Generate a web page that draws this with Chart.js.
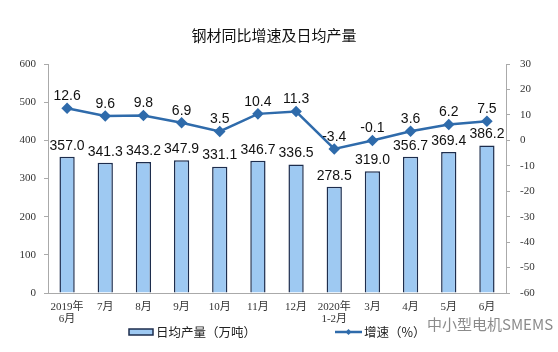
<!DOCTYPE html>
<html>
<head>
<meta charset="utf-8">
<script src="https://cdn.jsdelivr.net/npm/chart.js@4/dist/chart.umd.min.js"></script>
<style>
  html, body { margin: 0; padding: 0; background: #fff; }
  #wrap { width: 558px; height: 352px; position: relative; }
</style>
</head>
<body>
<div id="wrap"><canvas id="steelChart"></canvas></div>
<script>
// 月份
var months = [["2019年","6月"], "7月", "8月", "9月", "10月", "11月", "12月", ["2020年","1-2月"], "3月", "4月", "5月", "6月"];
// 日均产量（万吨）
var dailyOutput = [357.0, 341.3, 343.2, 347.9, 331.1, 346.7, 336.5, 278.5, 319.0, 356.7, 369.4, 386.2];
// 增速（%）
var growthRate = [12.6, 9.6, 9.8, 6.9, 3.5, 10.4, 11.3, -3.4, -0.1, 3.6, 6.2, 7.5];
// 刻度
var leftTicks = [0, 100, 200, 300, 400, 500, 600];
var rightTicks = [-60, -50, -40, -30, -20, -10, 0, 10, 20, 30];

var barFill = "#9ec9f2";
var barEdge = "#1d2d4d";
var lineColor = "#2f6bab";
var tickFont = { family: "'Liberation Serif', 'Noto Sans CJK SC', serif", size: 11, lineHeight: 1.1 };
var cjk = "'Noto Sans CJK SC', sans-serif";

// 数値ラベル・タイトル・凡例
var labelPlugin = {
  id: "labels",
  afterDatasetsDraw: function(chart) {
    var ctx = chart.ctx;
    ctx.save();
    ctx.fillStyle = "#111";
    ctx.font = "14px 'Liberation Sans', Arial, sans-serif";
    ctx.textAlign = "center";
    ctx.textBaseline = "middle";
    chart.getDatasetMeta(0).data.forEach(function(el, i) {
      ctx.fillText(dailyOutput[i].toFixed(1), el.x, el.y - 11);
    });
    chart.getDatasetMeta(1).data.forEach(function(el, i) {
      ctx.fillText(growthRate[i].toFixed(1), el.x, el.y - 12);
    });
    ctx.restore();
  },
  afterDraw: function(chart) {
    var ctx = chart.ctx;
    ctx.save();
    // タイトル
    ctx.fillStyle = "#111";
    ctx.font = "15px " + cjk;
    ctx.textAlign = "center";
    ctx.textBaseline = "middle";
    ctx.fillText("钢材同比增速及日均产量", 274, 35);

    // 凡例
    ctx.font = "12.5px " + cjk;
    ctx.textAlign = "left";
    ctx.fillStyle = barFill;
    ctx.strokeStyle = barEdge;
    ctx.lineWidth = 1.5;
    ctx.fillRect(129, 329, 24, 6);
    ctx.strokeRect(129, 329, 24, 6);
    ctx.fillStyle = "#222";
    ctx.fillText("日均产量（万吨）", 156, 332);

    ctx.strokeStyle = lineColor;
    ctx.lineWidth = 2.5;
    ctx.beginPath();
    ctx.moveTo(335, 332);
    ctx.lineTo(362, 332);
    ctx.stroke();
    ctx.fillStyle = lineColor;
    ctx.beginPath();
    ctx.moveTo(348.5, 329);
    ctx.lineTo(351.5, 332);
    ctx.lineTo(348.5, 335);
    ctx.lineTo(345.5, 332);
    ctx.closePath();
    ctx.fill();
    ctx.fillStyle = "#222";
    ctx.fillText("增速（%）", 364, 332);

    // 水印
    ctx.fillStyle = "rgba(110,110,110,0.8)";
    ctx.font = "15px " + cjk;
    ctx.fillText("中小型电机SMEMS", 427, 324);
    ctx.restore();
  }
};

var ctx = document.getElementById("steelChart").getContext("2d");

var steelChart = new Chart(ctx, {
  type: "bar",
  data: {
    labels: months,
    datasets: [{
      type: "bar",
      label: "日均产量（万吨）",
      data: dailyOutput,
      yAxisID: "yLeft",
      backgroundColor: barFill,
      borderColor: barEdge,
      borderWidth: 1.5,
      categoryPercentage: 1.0,
      barPercentage: 0.4,
      order: 2
    }, {
      type: "line",
      label: "增速（%）",
      data: growthRate,
      yAxisID: "yRight",
      borderColor: lineColor,
      backgroundColor: lineColor,
      borderWidth: 2.5,
      pointStyle: "rectRot",
      pointRadius: 4,
      tension: 0,
      order: 1
    }]
  },
  options: {
    responsive: true,
    maintainAspectRatio: false,
    animation: false,
    layout: { padding: { top: 64, bottom: 0, left: 0, right: 0 } },
    plugins: {
      legend: { display: false },
      title: { display: false },
      tooltip: { enabled: false }
    },
    scales: {
      x: {
        offset: true,
        grid: { display: false },
        border: { color: "#aaa" },
        ticks: { color: "#333", font: tickFont, maxRotation: 0, autoSkip: false, padding: 0 },
        afterFit: function(scale) { scale.height = 59; }
      },
      yLeft: {
        position: "left",
        min: 0,
        max: 600,
        afterBuildTicks: function(scale) { scale.ticks = leftTicks.map(function(v) { return { value: v }; }); },
        grid: { drawOnChartArea: false, tickLength: 4, color: "#aaa" },
        border: { color: "#aaa" },
        ticks: { color: "#333", font: tickFont, padding: 8 },
        afterFit: function(scale) { scale.width = 48; }
      },
      yRight: {
        position: "right",
        min: -60,
        max: 30,
        afterBuildTicks: function(scale) { scale.ticks = rightTicks.map(function(v) { return { value: v }; }); },
        grid: { drawOnChartArea: false, tickLength: 4, color: "#aaa" },
        border: { color: "#aaa" },
        ticks: { color: "#333", font: tickFont, padding: 10 },
        afterFit: function(scale) { scale.width = 52; }
      }
    }
  },
  plugins: [labelPlugin]
});
</script>
</body>
</html>
